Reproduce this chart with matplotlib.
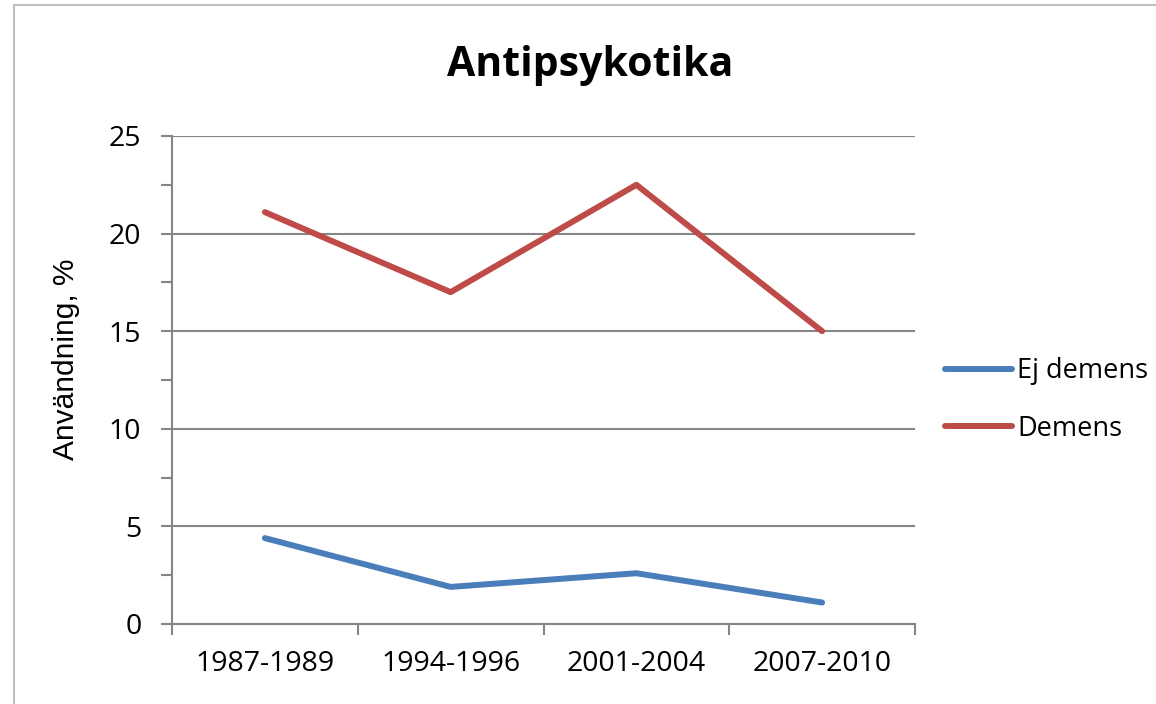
import matplotlib
matplotlib.use("Agg")
import matplotlib.pyplot as plt
from matplotlib.lines import Line2D

categories = ["1987-1989", "1994-1996", "2001-2004", "2007-2010"]
ej_demens = [4.4, 1.9, 2.6, 1.1]
demens = [21.1, 17.0, 22.5, 15.0]
series_names = ["Ej demens", "Demens"]
y_ticks = [0, 5, 10, 15, 20, 25]

W, H = 1156, 704
fig = plt.figure(figsize=(W / 100, H / 100), dpi=100)
ax = fig.add_axes([172 / W, 1 - 624 / H, (915 - 172) / W, (624 - 136) / H])

grid_c = "#868686"
blue = "#4A7EBB"
red = "#BE4B48"
font = "Open Sans"

x = [i + 0.5 for i in range(len(categories))]
l1, = ax.plot(x, ej_demens, color=blue, lw=4.3, solid_capstyle="round", solid_joinstyle="round", zorder=3)
l2, = ax.plot(x, demens, color=red, lw=4.3, solid_capstyle="round", solid_joinstyle="round", zorder=3)

ax.set_xlim(0, len(categories))
ax.set_ylim(0, 25)
ax.set_yticks(y_ticks)
ax.set_yticks([2.5, 7.5, 12.5, 17.5, 22.5], minor=True)
ax.set_yticklabels([str(v) for v in y_ticks], fontfamily=font, fontsize=20.5)
ax.set_xticks(range(len(categories) + 1))
ax.set_xticklabels([""] * (len(categories) + 1))
ax.set_xticks(x, minor=True)
ax.set_xticklabels(categories, minor=True, fontfamily=font, fontsize=20.5)
ax.tick_params(axis="x", which="minor", length=0, pad=19)
ax.tick_params(axis="x", which="major", length=8, width=1.5, color=grid_c, direction="out")
ax.tick_params(axis="y", which="both", length=8, width=1.5, color=grid_c, direction="out")
ax.tick_params(axis="y", which="major", pad=14)

ax.grid(axis="y", which="major", color=grid_c, lw=1.5)
ax.set_axisbelow(True)
for s in ["top", "right"]:
    ax.spines[s].set_visible(False)
for s in ["left", "bottom"]:
    ax.spines[s].set_color(grid_c)
    ax.spines[s].set_linewidth(1.5)

fig.text(66 / W, 1 - 359 / H, "Användning, %", rotation=90, ha="center", va="center",
         fontfamily="Liberation Sans", fontsize=21.5)

fig.text(590 / W, 1 - 66 / H, "Antipsykotika", ha="center", va="center",
         fontfamily=font, fontweight="bold", fontsize=29.5)

fig.legend([l1, l2], series_names, loc="center left", bbox_to_anchor=(921 / W, 1 - 400 / H),
           frameon=False, handlelength=2.45, handletextpad=0.2, labelspacing=1.1,
           prop={"family": font, "size": 19.5})

fig.add_artist(Line2D([13.5 / W, 13.5 / W], [0, 1 - 4.5 / H], transform=fig.transFigure,
                      color="#BFBFBF", lw=1.5))
fig.add_artist(Line2D([13.5 / W, 1], [1 - 4.5 / H, 1 - 4.5 / H], transform=fig.transFigure,
                      color="#BFBFBF", lw=1.5))
fig.savefig("out.png", dpi=100)
